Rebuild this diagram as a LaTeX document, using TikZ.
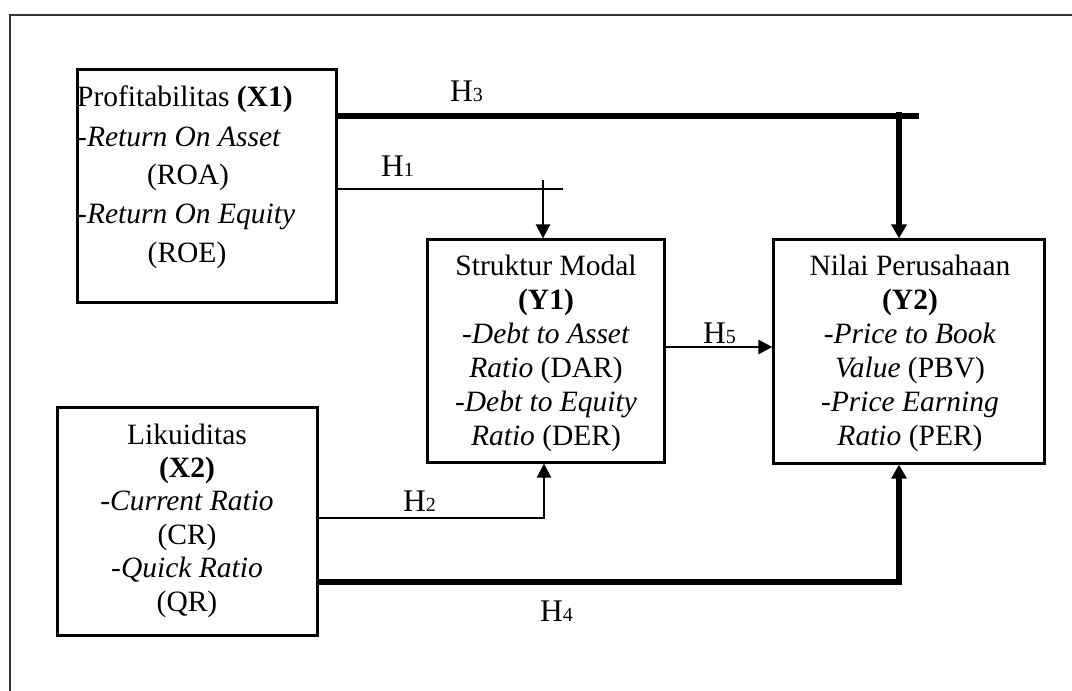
\documentclass[tikz,border=0pt]{standalone}
\usepackage{fontspec}
\setmainfont{Liberation Serif}
\usetikzlibrary{arrows.meta}
\newcommand\hsub[1]{{\fontsize{20}{20}\selectfont #1}}
\begin{document}
\begin{tikzpicture}[x=1pt,y=-1pt,
  frame/.style={draw=black!80, line width=2pt},
  box/.style={draw, line width=2.2pt, inner sep=0pt, rectangle},
  thinln/.style={line width=2.4pt},
  thickln/.style={line width=5.5pt, line join=miter},
  thinarr/.style={line width=2.4pt, -{Triangle[width=14pt,length=14pt]}},
  thickarr/.style={line width=5.5pt, line join=miter, -{Triangle[width=15pt,length=14pt]}},
  txt/.style={inner sep=0pt, anchor=base, font=\fontsize{29.5}{34}\selectfont},
  lab/.style={inner sep=0pt, anchor=base west, font=\fontsize{31.5}{34}\selectfont}
]
\useasboundingbox (0,0) rectangle (1072,691);
\draw[frame] (1072,15) -- (9.5,15) -- (9.5,691);

% boxes
\node[box, line width=3pt, minimum width=259pt, minimum height=233pt] (prof) at (206.5,186) {};
\node[box, minimum width=260pt, minimum height=228pt] (lik) at (187.5,521.5) {};
\node[box, minimum width=237pt, minimum height=223pt] (str) at (546,351) {};
\node[box, minimum width=271pt, minimum height=224pt] (nil) at (909,351.5) {};

% Profitabilitas text
\node[txt, anchor=base west] (p1) at (77,106) {Profitabilitas \textbf{(X1)}};
\node[txt, anchor=base west] (p2) at (77,146.5) {-\textit{Return On Asset}};
\node[txt] (p3) at (188,184) {(ROA)};
\node[txt, anchor=base west] (p4) at (77,223) {-\textit{Return On Equity}};
\node[txt] (p5) at (187,262) {(ROE)};

% Struktur Modal text
\node[txt] (s1) at (546,275) {Struktur Modal};
\node[txt] (s2) at (546,309) {\textbf{(Y1)}};
\node[txt] (s3) at (546,343) {-\textit{Debt to Asset}};
\node[txt] (s4) at (546,377) {\textit{Ratio} (DAR)};
\node[txt] (s5) at (546,411) {-\textit{Debt to Equity}};
\node[txt] (s6) at (546,445) {\textit{Ratio} (DER)};

% Nilai Perusahaan text
\node[txt] (n1) at (910,275) {Nilai Perusahaan};
\node[txt] (n2) at (910,309) {\textbf{(Y2)}};
\node[txt] (n3) at (910,343) {-\textit{Price to Book}};
\node[txt] (n4) at (910,377) {\textit{Value} (PBV)};
\node[txt] (n5) at (910,411) {-\textit{Price Earning}};
\node[txt] (n6) at (910,445) {\textit{Ratio} (PER)};

% Likuiditas text
\node[txt] (l1) at (187,444) {Likuiditas};
\node[txt] (l2) at (187,477.4) {\textbf{(X2)}};
\node[txt] (l3) at (187,510.8) {-\textit{Current Ratio}};
\node[txt] (l4) at (187,544.2) {(CR)};
\node[txt] (l5) at (187,577.6) {-\textit{Quick Ratio}};
\node[txt] (l6) at (187,611) {(QR)};

% connector coordinates
\coordinate (h3e) at (919,116);
\coordinate (h3d) at (899,112);
\coordinate (h1e) at (563,189);
\coordinate (h1d) at (543,180);
\coordinate (h5c) at (700,347);
\coordinate (h2c) at (544,518);
\coordinate (h4c) at (899,582);

% H3
\draw[thickln] (prof.east |- h3e) -- (h3e);
\draw[thickarr] (h3d) -- (h3d |- nil.north);
% H1
\draw[thinln] (prof.east |- h1e) -- (h1e);
\draw[thinarr] (h1d) -- (h1d |- str.north);
% H5
\draw[thinarr] (h5c -| str.east) -- (h5c -| nil.west);
% H2
\draw[thinarr] (lik.east |- h2c) -- (h2c) -- (h2c |- str.south);
% H4
\draw[thickarr] (lik.east |- h4c) -- (h4c) -- (h4c |- nil.south);

% labels
\node[lab] (lh3) at (450,101.7) {H\hsub{3}};
\node[lab] (lh1) at (381,176.7) {H\hsub{1}};
\node[lab] (lh5) at (703,343.3) {H\hsub{5}};
\node[lab] (lh2) at (403,511.7) {H\hsub{2}};
\node[lab] (lh4) at (540,621.7) {H\hsub{4}};
\end{tikzpicture}
\end{document}
